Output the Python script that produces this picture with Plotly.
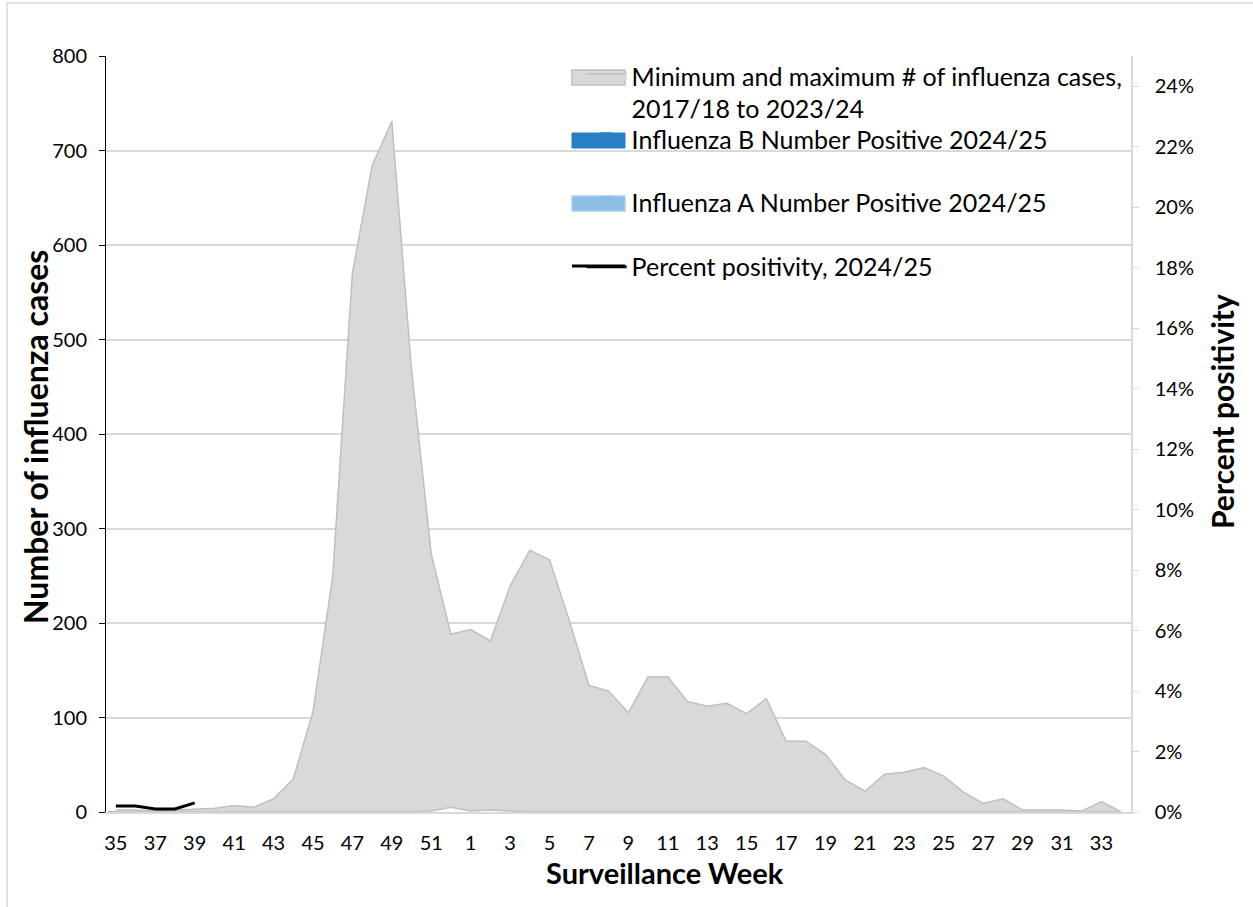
import plotly.graph_objects as go

weeks = [str(w) for w in list(range(35, 53)) + list(range(1, 35))]

max_cases = [2, 2, 1, 2, 3, 4, 7, 5, 14, 35, 106, 249, 570, 684, 731, 468, 273, 188,
             193, 181, 239, 277, 267, 203, 134, 128, 105, 143, 143, 117, 112, 115, 104, 120,
             75, 75, 61, 34, 22, 40, 42, 47, 38, 21, 9, 14, 2, 2, 2, 1, 11, 0]
min_cases = [0, 0, 0, 0, 0, 0, 0, 0, 0, 0, 0, 0, 0, 0, 0, 0, 1, 5,
             1, 2, 1, 0, 0, 0, 0, 0, 0, 0, 0, 0, 0, 0, 0, 0,
             0, 0, 0, 0, 0, 0, 0, 0, 0, 0, 0, 0, 0, 0, 0, 0, 0, 0]

cur_weeks = ["35", "36", "37", "38", "39"]
flu_b = [0, 0, 0, 0, 0]
flu_a = [1, 1, 0, 0, 2]
pct_pos = [0.002, 0.002, 0.001, 0.001, 0.003]

FONT = "Lato"
GRAY_FILL = "#d9d9d9"
GRAY_LINE = "#bfbfbf"
B_COLOR = "#2a7fc4"
A_COLOR = "#8dbfe6"

fig = go.Figure()

fig.add_trace(go.Scatter(x=weeks, y=min_cases, mode="lines",
                         line=dict(color=GRAY_LINE, width=1.5),
                         showlegend=False, hoverinfo="skip"))
fig.add_trace(go.Scatter(x=weeks, y=max_cases, mode="lines", fill="tonexty",
                         fillcolor=GRAY_FILL, line=dict(color=GRAY_LINE, width=1.5),
                         name="Minimum and maximum # of influenza cases,<br>2017/18 to 2023/24",
                         legend="legend"))
fig.add_trace(go.Bar(x=cur_weeks, y=flu_b,
                     marker=dict(color=B_COLOR, line=dict(color=B_COLOR, width=1)),
                     name="Influenza B Number Positive 2024/25", legend="legend2"))
fig.add_trace(go.Bar(x=cur_weeks, y=flu_a,
                     marker=dict(color=A_COLOR, line=dict(color=A_COLOR, width=1)),
                     name="Influenza A Number Positive 2024/25", legend="legend3"))
fig.add_trace(go.Scatter(x=cur_weeks, y=pct_pos, mode="lines", yaxis="y2",
                         line=dict(color="#000000", width=3),
                         name="Percent positivity, 2024/25", legend="legend4"))

leg_common = dict(bgcolor="rgba(0,0,0,0)", font=dict(family=FONT, size=25, color="#000"),
                  xanchor="left", yanchor="middle", itemwidth=40, valign="top")


def px_x(p):
    return (p - 106) / 1025.0


def px_y(p):
    return (812 - p) / 756.0


legend_swatches = [
    dict(type="rect", xref="paper", yref="paper", x0=px_x(572), x1=px_x(625),
         y0=px_y(85), y1=px_y(70), fillcolor=GRAY_FILL, line=dict(color=GRAY_LINE, width=1.5)),
    dict(type="rect", xref="paper", yref="paper", x0=px_x(572), x1=px_x(625),
         y0=px_y(148), y1=px_y(133), fillcolor=B_COLOR, line=dict(color=B_COLOR, width=1)),
    dict(type="rect", xref="paper", yref="paper", x0=px_x(572), x1=px_x(625),
         y0=px_y(211), y1=px_y(196), fillcolor=A_COLOR, line=dict(color="#a9d0ee", width=1.5)),
    dict(type="line", xref="paper", yref="paper", x0=px_x(572), x1=px_x(625),
         y0=px_y(266), y1=px_y(266), line=dict(color="#000", width=3)),
]

fig.update_layout(
    width=1253, height=907,
    margin=dict(l=106, r=122, t=56, b=95),
    paper_bgcolor="white", plot_bgcolor="white",
    barmode="stack", bargap=0.3,
    font=dict(family=FONT, size=20, color="#000"),
    legend=dict(x=0.464, y=0.952, **leg_common),
    legend2=dict(x=0.464, y=0.890, **leg_common),
    legend3=dict(x=0.464, y=0.806, **leg_common),
    legend4=dict(x=0.464, y=0.721, **leg_common),
    xaxis=dict(type="category", categoryorder="array", categoryarray=weeks,
               range=[-0.5, 51.5], tickmode="linear", tick0=0, dtick=2,
               showgrid=False, showline=True, linecolor=GRAY_FILL, linewidth=1.5,
               ticks="", ticklabelstandoff=12, tickfont=dict(size=20)),
    yaxis=dict(range=[0, 800], dtick=100, showgrid=True, gridcolor=GRAY_FILL, gridwidth=1.5,
               showline=True, linecolor="#000", linewidth=1, ticks="outside", ticklen=6,
               tickcolor="#000", ticklabelstandoff=8, zeroline=False, tickfont=dict(size=20)),
    yaxis2=dict(overlaying="y", side="right", range=[0, 0.25], tickmode="linear", tick0=0,
                dtick=0.02, tickformat=".0%", showgrid=False, showline=True,
                linecolor=GRAY_FILL, linewidth=1.5, ticks="outside", ticklen=6,
                tickcolor=GRAY_FILL, ticklabelstandoff=12, zeroline=False, tickfont=dict(size=20)),
    annotations=[
        dict(text="<b>Surveillance Week</b>", xref="paper", yref="paper",
             x=px_x(665), y=px_y(872), xanchor="center", yanchor="middle",
             showarrow=False, font=dict(size=29, family=FONT, color="#000")),
        dict(text="<b>Number of influenza cases</b>", xref="paper", yref="paper",
             x=px_x(35), y=px_y(437), xanchor="center", yanchor="middle", textangle=-90,
             showarrow=False, font=dict(size=32, family=FONT, color="#000")),
        dict(text="<b>Percent positivity</b>", xref="paper", yref="paper",
             x=px_x(1222), y=px_y(412), xanchor="center", yanchor="middle", textangle=-90,
             showarrow=False, font=dict(size=30, family=FONT, color="#000")),
    ],
    shapes=[dict(type="rect", xref="paper", yref="paper", x0=-0.0966, x1=1.2, y0=-0.2,
                 y1=1.07, line=dict(color=GRAY_FILL, width=1.5), layer="below")]
           + legend_swatches,
)

fig.write_html("out.html")
